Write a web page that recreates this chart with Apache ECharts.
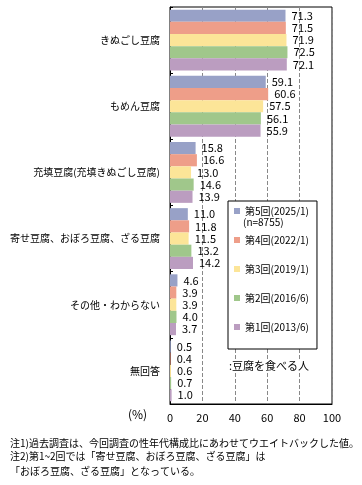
<!DOCTYPE html>
<html><head><meta charset="utf-8">
<script src="https://cdn.jsdelivr.net/npm/echarts@6/dist/echarts.min.js"></script>
<style>html,body{margin:0;padding:0;background:#fff}#c{width:362px;height:485px}</style>
</head><body><div id="c"></div>
<script>
var categories = ["きぬごし豆腐","もめん豆腐","充填豆腐(充填きぬごし豆腐)","寄せ豆腐、おぼろ豆腐、ざる豆腐","その他・わからない","無回答"];
var seriesNames = ["第5回(2025/1)","第4回(2022/1)","第3回(2019/1)","第2回(2016/6)","第1回(2013/6)"];
var s5 = [71.3, 59.1, 15.8, 11.0, 4.6, 0.5];
var s4 = [71.5, 60.6, 16.6, 11.8, 3.9, 0.4];
var s3 = [71.9, 57.5, 13.0, 11.5, 3.9, 0.6];
var s2 = [72.5, 56.1, 14.6, 13.2, 4.0, 0.7];
var s1 = [72.1, 55.9, 13.9, 14.2, 3.7, 1.0];
var xTicks = [0, 20, 40, 60, 80, 100];
var colors = ["#98A1C7","#EE9E89","#FCE598","#A0C78B","#BB9DC0"];
var values = [s5, s4, s3, s2, s1];
var FF = '"Noto Sans CJK JP", "Noto Sans", sans-serif';

var chart = echarts.init(document.getElementById('c'));
var series = values.map(function(v, i){
  return {
    name: seriesNames[i], type: 'bar', data: v,
    barCategoryGap: '8%', barGap: '0%',
    itemStyle: {color: colors[i]},
    label: {show: true, position: 'right', distance: 6, color: '#000', fontSize: 11, fontFamily: FF,
      formatter: function(p){ return p.value.toFixed(1); }}
  };
});
chart.setOption({
  animation: false,
  grid: {left: 170, right: 30, top: 7, bottom: 81, show: true, borderColor: '#000', borderWidth: 1, backgroundColor: 'transparent'},
  xAxis: {type: 'value', min: 0, max: 100, interval: 20,
    axisLine: {show: true, lineStyle: {color: '#000'}},
    axisTick: {show: false},
    splitLine: {show: true, lineStyle: {color: '#888', type: 'dashed'}},
    axisLabel: {color: '#000', fontSize: 11, margin: 8, fontFamily: FF,
      formatter: function(v){ return xTicks.indexOf(v) >= 0 ? String(v) : ''; }}
  },
  yAxis: {type: 'category', data: categories, inverse: true,
    axisLine: {show: true, lineStyle: {color: '#000'}},
    axisTick: {show: true, inside: true, length: 3, lineStyle: {color: '#000'}},
    axisLabel: {color: '#000', fontSize: 10, margin: 10, fontFamily: FF}
  },
  legend: {orient: 'vertical', left: 228, top: 201, data: seriesNames,
    backgroundColor: '#fff', borderColor: '#000', borderWidth: 1,
    padding: [3, 8, 15, 6], itemWidth: 6, itemHeight: 6, itemGap: 15,
    icon: 'rect',
    textStyle: {color: '#000', fontSize: 10, lineHeight: 14, fontFamily: FF}
  },
  graphic: [
    {type: 'text', left: 243, top: 217, z: 100, style: {text: '(n=8755)', fill: '#000', font: '10px ' + FF}},
    {type: 'text', left: 229, top: 360, z: 100, style: {text: ':豆腐を食べる人', fill: '#000', font: '11px ' + FF, backgroundColor: '#fff'}},
    {type: 'text', left: 128, top: 408, style: {text: '(%)', fill: '#000', font: '12px ' + FF}},
    {type: 'text', left: 10, top: 438, style: {text: '注1)過去調査は、今回調査の性年代構成比にあわせてウエイトバックした値。', fill: '#000', font: '10px ' + FF}},
    {type: 'text', left: 10, top: 451, style: {text: '注2)第1~2回では「寄せ豆腐、おぼろ豆腐、ざる豆腐」は', fill: '#000', font: '10px ' + FF}},
    {type: 'text', left: 10, top: 466, style: {text: '「おぼろ豆腐、ざる豆腐」となっている。', fill: '#000', font: '10px ' + FF}}
  ],
  series: series
});
</script></body></html>
